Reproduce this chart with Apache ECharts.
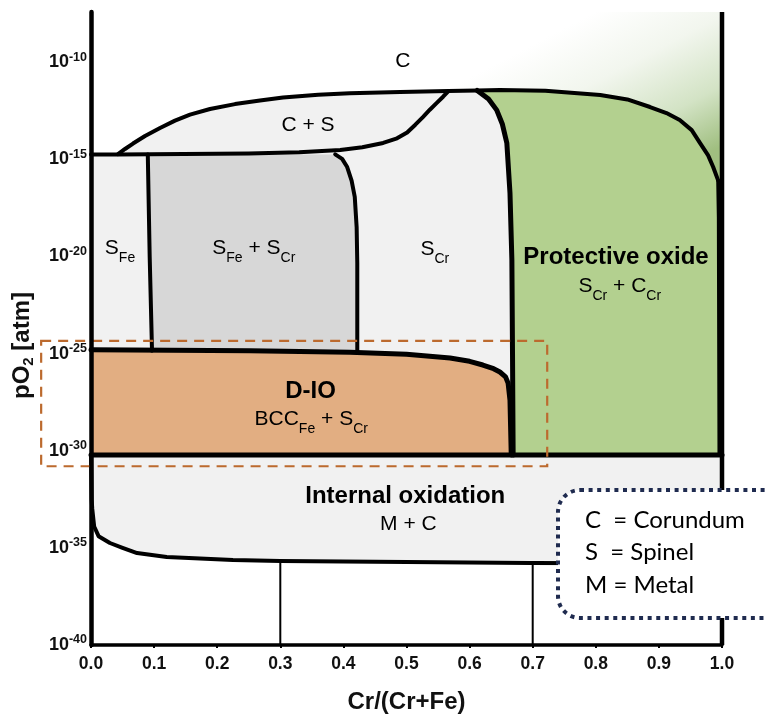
<!DOCTYPE html>
<html><head><meta charset="utf-8">
<script src="https://cdn.jsdelivr.net/npm/echarts/dist/echarts.min.js"></script>
<style>html,body{margin:0;padding:0;background:#fff}#chart{width:766px;height:714px}</style>
</head><body><div id="chart"></div>
<script>
// ---------- axes ----------
const xRange = [0, 1];
const yRange = [-40, -7.42];               // log10(pO2 / atm)
const yTickExponents = [-40, -35, -30, -25, -20, -15, -10];

// ---------- phase boundaries [Cr/(Cr+Fe), log10 pO2] ----------
const topCurve = [[0.0428,-14.73],[0.0539,-14.47],[0.0666,-14.19],[0.0856,-13.8],[0.1094,-13.39],[0.1331,-13.01],[0.1569,-12.7],[0.1886,-12.41],[0.2282,-12.16],[0.2678,-11.98],[0.3043,-11.82],[0.36,-11.68],[0.41,-11.6],[0.49,-11.54],[0.566,-11.49],[0.612,-11.46],[0.648,-11.44],[0.72,-11.47],[0.807,-11.69],[0.85,-11.92],[0.886,-12.31],[0.912,-12.62],[0.933,-12.98],[0.952,-13.5],[0.965,-14.16],[0.978,-14.8],[0.986,-15.4],[0.994,-16.1]];
const csLower = [[0,-14.75],[0.043,-14.75],[0.25,-14.7],[0.33,-14.64],[0.395,-14.52],[0.43,-14.38],[0.463,-14.16],[0.485,-13.92],[0.501,-13.62],[0.514,-13.22],[0.526,-12.83],[0.537,-12.45],[0.548,-12.1],[0.558,-11.78],[0.566,-11.5]];
const greyLeft = [[0.09,-14.75],[0.093,-20],[0.0967,-24.85]];
const greyRight = [[0.387,-14.75],[0.398,-14.98],[0.406,-15.4],[0.413,-16.1],[0.418,-16.94],[0.421,-18.5],[0.422,-20.34],[0.422,-24.9]];
const dioTop = [[0,-24.8],[0.252,-24.85],[0.41,-24.93],[0.5,-25.03],[0.569,-25.23],[0.6,-25.4],[0.621,-25.59],[0.638,-25.78],[0.648,-25.95],[0.657,-26.2],[0.661,-26.52],[0.664,-27.4],[0.665,-28.8],[0.666,-30.22]];
const protLeft = [[0.612,-11.46],[0.63,-11.9],[0.643,-12.47],[0.652,-13.2],[0.659,-14.16],[0.664,-16.74],[0.667,-20.19],[0.668,-25],[0.669,-30.22]];
const protRight = [[0.994,-16.1],[0.995,-18],[0.996,-30.22]];
const midLine = [[0,-30.22],[1,-30.22]];
const ioBottom = [[0,-30.22],[0.001,-32.5],[0.002,-33.0],[0.005,-33.9],[0.012,-34.4],[0.03,-34.75],[0.05,-35.0],[0.073,-35.27],[0.12,-35.47],[0.225,-35.63],[0.3,-35.68],[0.5,-35.73],[0.696,-35.78],[1,-35.8]];
const dropLineX = [0.3, 0.7];
const rightBorder = [[1,-40],[1,-7.42]];
const highlightBox = [[-0.079,-24.35],[0.723,-24.35],[0.723,-30.8],[-0.079,-30.8]];

// ---------- texts ----------
const regionLabels = [
  {pos:[0.494,-9.94],  text:'{r|C}'},
  {pos:[0.344,-13.26], text:'{r|C + S}'},
  {pos:[0.046,-19.57], text:'{r|S}{sub|Fe}'},
  {pos:[0.258,-19.57], text:'{r|S}{sub|Fe}{r| + S}{sub|Cr}'},
  {pos:[0.545,-19.62], text:'{r|S}{sub|Cr}'},
  {pos:[0.832,-20.03], text:'{b|Protective oxide}'},
  {pos:[0.838,-21.55], text:'{r|S}{sub|Cr}{r| + C}{sub|Cr}'},
  {pos:[0.348,-26.93], text:'{b|D-IO}'},
  {pos:[0.349,-28.37], text:'{r|BCC}{sub|Fe}{r| + S}{sub|Cr}'},
  {pos:[0.498,-32.36], text:'{b|Internal oxidation}'},
  {pos:[0.503,-33.77], text:'{r|M + C}'}
];
const legendLines = ['C  = Corundum', 'S  = Spinel', 'M = Metal'];
const xTitle = 'Cr/(Cr+Fe)';

// ---------- composed regions ----------
const topEnd = topCurve[topCurve.length - 1];
const cRegion = [[0, yRange[1]], [0, -14.75], ...topCurve, [1, topEnd[1]], [1, yRange[1]]];
const lightRegion = [[0, -14.75], ...topCurve, [1, topEnd[1]], ...ioBottom.slice().reverse()];
const greyRegion = [...greyLeft, ...greyRight.slice().reverse()];
const dioRegion = [...dioTop, [0, -30.22]];
const protRegion = [...protLeft, [1, -30.22], [1, topEnd[1]], ...topCurve.filter(p => p[0] > 0.612).reverse()];
const ioAt = x => { for (let i = 1; i < ioBottom.length; i++) { const a = ioBottom[i-1], b = ioBottom[i]; if (x <= b[0]) return a[1] + (b[1]-a[1])*(x-a[0])/(b[0]-a[0]); } return ioBottom[ioBottom.length-1][1]; };
const dropLines = dropLineX.map(x => [[x, ioAt(x)], [x, yRange[0]]]);

const FONT = '"Liberation Sans", Arial, sans-serif';

function areaSeries(points, fill) {
  return {type:'custom', coordinateSystem:'cartesian2d', data: points, silent:true,
    renderItem(params, api) {
      if (params.dataIndex !== 0) return null;
      return {type:'polygon', shape:{points: points.map(p => api.coord(p))},
        style:{fill: typeof fill === 'function' ? fill(api) : fill, stroke:null}};
    }};
}
function lineSeries(points, width, extra) {
  return {type:'custom', coordinateSystem:'cartesian2d', data: points, silent:true,
    renderItem(params, api) {
      if (params.dataIndex !== 0) return null;
      return {type: (extra && extra.closed) ? 'polygon' : 'polyline', shape:{points: points.map(p => api.coord(p))},
        style:Object.assign({fill:null, stroke:'#000', lineWidth:width, lineJoin:'round', lineCap:'round'}, extra && extra.style)};
    }};
}

const gradientFill = api => {
  const a = api.coord([0.8, -7.4]), b = api.coord([0.93, -15.5]);
  return {type:'linear', x:a[0], y:a[1], x2:b[0], y2:b[1], global:true,
    colorStops:[{offset:0,color:'#ffffff'},{offset:0.35,color:'#f2f6ee'},{offset:0.7,color:'#d3e3c5'},{offset:1,color:'#a0bf80'}]};
};

const rich = {
  r:{fontFamily:FONT, fontSize:21, color:'#111'},
  sub:{fontFamily:FONT, fontSize:14, color:'#111', padding:[20,0,0,0]},
  b:{fontFamily:FONT, fontSize:24, fontWeight:'bold', color:'#111'}
};

const series = [
  areaSeries(cRegion, gradientFill),
  areaSeries(lightRegion, '#f1f1f1'),
  areaSeries(greyRegion, '#d7d7d7'),
  areaSeries(dioRegion, '#e2ae82'),
  areaSeries(protRegion, '#b3d08f'),
  lineSeries(csLower, 4),
  lineSeries(topCurve, 4),
  lineSeries(greyLeft, 4),
  lineSeries(greyRight, 4),
  lineSeries(protLeft, 5),
  lineSeries(protRight, 4),
  lineSeries(dioTop, 5),
  lineSeries(midLine, 5),
  lineSeries(ioBottom, 4),
  ...dropLines.map(l => lineSeries(l, 2, {style:{lineCap:'butt'}})),
  lineSeries(rightBorder, 4.5, {style:{lineCap:'butt'}}),
  {type:'custom', coordinateSystem:'cartesian2d', data: regionLabels.map(d => d.pos), silent:true,
    renderItem(params, api) {
      const d = regionLabels[params.dataIndex];
      const c = api.coord(d.pos);
      return {type:'text', x:c[0], y:c[1], style:{text:d.text, rich, align:'center', verticalAlign:'middle'}};
    }},
  lineSeries(highlightBox, 2.2, {closed:true, style:{stroke:'#bc6a2e', lineDash:[10,7], lineCap:'butt', lineJoin:'miter'}})
];

const chart = echarts.init(document.getElementById('chart'), null, {renderer:'canvas', width:766, height:714});
chart.setOption({
  animation:false,
  backgroundColor:'#ffffff',
  grid:{left:91, right:44, top:12, bottom:69, containLabel:false, outerBoundsMode:'none'},
  xAxis:{type:'value', min:xRange[0], max:xRange[1], interval:0.1, z:10,
    name:xTitle, nameLocation:'middle', nameGap:45,
    nameTextStyle:{fontFamily:FONT, fontSize:24, fontWeight:'bold', color:'#111'},
    axisLine:{show:true, onZero:false, lineStyle:{color:'#000', width:3.5}},
    axisTick:{show:true, length:3, lineStyle:{color:'#000', width:2}},
    splitLine:{show:false},
    axisLabel:{margin:10, fontFamily:FONT, fontSize:17.5, fontWeight:'bold', color:'#111', formatter:v => v.toFixed(1)}},
  yAxis:{type:'value', min:yRange[0], max:yRange[1], interval:5, z:10,
    name:'{a|pO}{s|2}{a| [atm]}', nameLocation:'middle', nameGap:55, nameRotate:90,
    nameTextStyle:{padding:[0,34,0,0], rich:{
      a:{fontFamily:FONT, fontSize:24, fontWeight:'bold', color:'#111'},
      s:{fontFamily:FONT, fontSize:15, fontWeight:'bold', color:'#111', padding:[12,0,0,0]}}},
    axisLine:{show:true, onZero:false, lineStyle:{color:'#000', width:4.5}},
    axisTick:{show:false}, splitLine:{show:false},
    axisLabel:{margin:4, showMaxLabel:false, fontFamily:FONT, fontSize:18, fontWeight:'bold', color:'#111',
      formatter:v => yTickExponents.includes(v) ? '{b|10}{s|' + v + '}' : '',
      rich:{b:{fontFamily:FONT, fontSize:18, fontWeight:'bold', color:'#111'},
            s:{fontFamily:FONT, fontSize:12.5, fontWeight:'bold', color:'#111', padding:[0,0,10,0]}}}},
  series,
  graphic:{elements:[
    {type:'rect', z:100, silent:true, shape:{x:558, y:490, width:240, height:128, r:22},
      style:{fill:'#ffffff', stroke:'#1f2b4f', lineWidth:4, lineDash:[4,4.6]}},
    ...legendLines.map((t, i) => ({type:'text', z:101, silent:true, x:585, y:520 + i*32.5,
      style:{text:t, font:'24px Lato, "Open Sans", sans-serif', fill:'#000', verticalAlign:'middle'}}))
  ]}
});
</script></body></html>
